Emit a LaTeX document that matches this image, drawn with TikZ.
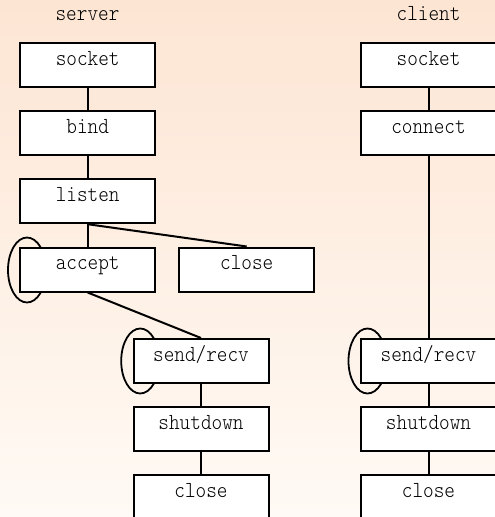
\documentclass[tikz,border=0pt]{standalone}
\usepackage{fontspec}
\setmonofont{Latin Modern Mono Light}[FakeStretch=0.88]
\definecolor{bgtop}{RGB}{253,229,211}
\definecolor{bgbot}{RGB}{255,250,245}
\begin{document}
\begin{tikzpicture}[x=1pt,y=-1pt,
  fn/.style={draw=black,fill=white,line width=2pt,inner sep=0pt,
    minimum width=135pt,text height=22.4pt,text depth=21.6pt,
    font=\ttfamily\fontsize{23}{25}\selectfont},
  ttl/.style={inner sep=0pt,font=\ttfamily\fontsize{23}{25}\selectfont,anchor=base},
  conn/.style={line width=2pt},
  loope/.style={line width=1.8pt,draw=black}]
\useasboundingbox (0,0) rectangle (495,517);
\clip (0,0) rectangle (495,517);
\shade[top color=bgtop,bottom color=bgbot] (0,0) rectangle (495,517);
% titles
\node[ttl] (tserver) at (87.5,20.6) {server};
\node[ttl] (tclient) at (428.5,20.6) {client};
% loops (behind boxes)
\draw[loope] (27,270) ellipse [x radius=19,y radius=32.5];
\draw[loope] (140.2,361) ellipse [x radius=19,y radius=32.5];
\draw[loope] (367.5,361) ellipse [x radius=19,y radius=32.5];
% server
\node[fn] (ssock) at (87.7,65.2) {socket};
\node[fn] (sbind) at (87.7,133.2) {bind};
\node[fn] (slist) at (87.7,201.2) {listen};
\node[fn] (sacc) at (87.7,269.5) {accept};
\node[fn] (sclo1) at (246.7,269.5) {close};
\node[fn] (ssr) at (201,361) {send/recv};
\node[fn] (sshut) at (201,429) {shutdown};
\node[fn] (sclo2) at (201,497) {close};
% client
\node[fn] (csock) at (428.5,65.2) {socket};
\node[fn] (ccon) at (428.5,133.2) {connect};
\node[fn] (csr) at (428.5,361) {send/recv};
\node[fn] (cshut) at (428.5,429) {shutdown};
\node[fn] (cclo) at (428.5,497) {close};
% connectors
\draw[conn] (ssock) -- (sbind);
\draw[conn] (sbind) -- (slist);
\draw[conn] (slist) -- (sacc);
\draw[conn] (slist.south) -- (sclo1.north);
\draw[conn] (sacc.south) -- (ssr.north);
\draw[conn] (ssr) -- (sshut);
\draw[conn] (sshut) -- (sclo2);
\draw[conn] (csock) -- (ccon);
\draw[conn] (ccon) -- (csr);
\draw[conn] (csr) -- (cshut);
\draw[conn] (cshut) -- (cclo);
\end{tikzpicture}
\end{document}
